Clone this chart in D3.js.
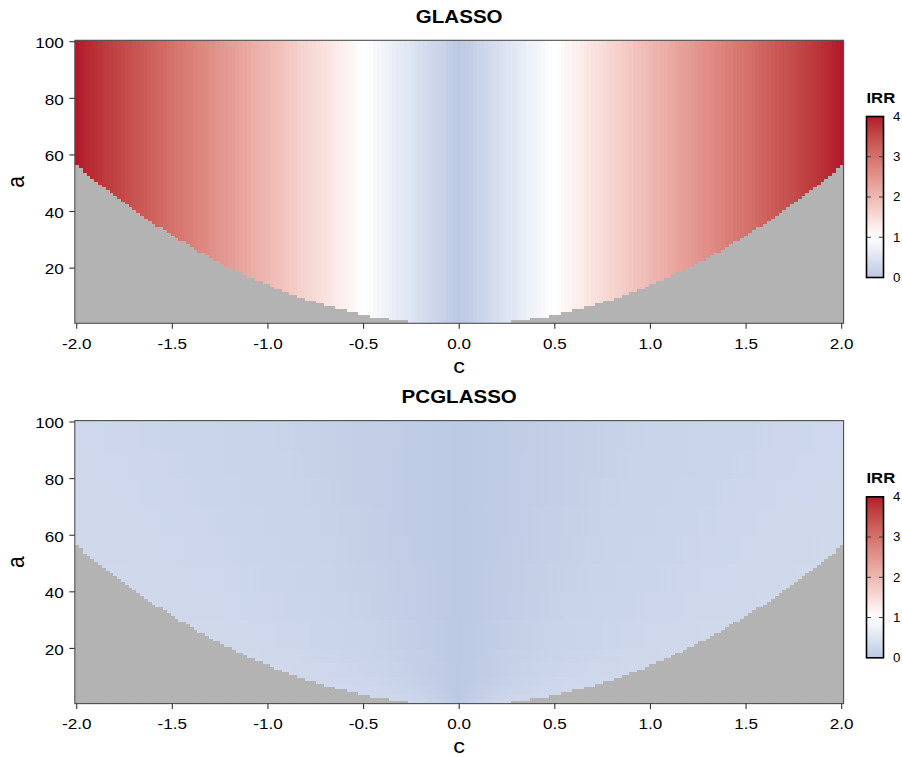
<!DOCTYPE html>
<html><head><meta charset="utf-8">
<script src="https://cdn.jsdelivr.net/npm/d3@7"></script>
<style>html,body{margin:0;padding:0;background:#fff;} svg{display:block;}</style>
</head><body><svg id="chart" width="902" height="757"></svg>
<script>
// ---------------- DATA ----------------
const panelTitles = ["GLASSO", "PCGLASSO"];
// column centres of the (c, a) grid: c from -2 to 2 in steps of 0.02
const cGrid = d3.range(-100, 101).map(k => k / 50);
// GLASSO: IRR per c column (constant over a)
const glassoIRR = [
4,3.96,3.92,3.88,3.84,3.8,3.76,3.72,3.68,3.64,3.6,3.56,3.52,3.48,3.44,3.4,3.36,3.32,3.28,3.24,3.2,3.16,3.12,3.08,3.04,
3,2.96,2.92,2.88,2.84,2.8,2.76,2.72,2.68,2.64,2.6,2.56,2.52,2.48,2.44,2.4,2.36,2.32,2.28,2.24,2.2,2.16,2.12,2.08,2.04,
2,1.96,1.92,1.88,1.84,1.8,1.76,1.72,1.68,1.64,1.6,1.56,1.52,1.48,1.44,1.4,1.36,1.32,1.28,1.24,1.2,1.16,1.12,1.08,1.04,
1,0.96,0.92,0.88,0.84,0.8,0.76,0.72,0.68,0.64,0.6,0.56,0.52,0.48,0.44,0.4,0.36,0.32,0.28,0.24,0.2,0.16,0.12,0.08,0.04,
0,
0.04,0.08,0.12,0.16,0.2,0.24,0.28,0.32,0.36,0.4,0.44,0.48,0.52,0.56,0.6,0.64,0.68,0.72,0.76,0.8,0.84,0.88,0.92,0.96,1,
1.04,1.08,1.12,1.16,1.2,1.24,1.28,1.32,1.36,1.4,1.44,1.48,1.52,1.56,1.6,1.64,1.68,1.72,1.76,1.8,1.84,1.88,1.92,1.96,2,
2.04,2.08,2.12,2.16,2.2,2.24,2.28,2.32,2.36,2.4,2.44,2.48,2.52,2.56,2.6,2.64,2.68,2.72,2.76,2.8,2.84,2.88,2.92,2.96,3,
3.04,3.08,3.12,3.16,3.2,3.24,3.28,3.32,3.36,3.4,3.44,3.48,3.52,3.56,3.6,3.64,3.68,3.72,3.76,3.8,3.84,3.88,3.92,3.96,4
];
// smallest a value that is not missing (NA, grey) in each c column
const minValidA = [
57,56,54,53,52,51,50,49,48,47,46,45,44,43,42,41,40,39,38,37,36,
35,35,34,33,32,31,30,30,29,28,27,26,26,25,24,23,23,22,21,21,20,19,19,18,17,17,16,16,15,15,14,13,13,12,12,11,11,10,10,9,
9,9,8,8,7,7,7,6,6,6,5,5,5,4,4,4,3,3,3,3,3,2,2,2,2,2,
1,1,1,1,1,1,1,1,1,1,1,1,1,
1,
1,1,1,1,1,1,1,1,1,1,1,1,1,
2,2,2,2,2,3,3,3,3,3,4,4,4,5,5,5,6,6,6,7,7,7,8,8,9,9,9,10,10,11,11,12,12,13,13,14,15,15,16,16,17,17,18,19,19,20,21,21,22,23,23,24,25,26,26,27,28,29,30,30,31,32,33,34,35,35,
36,37,38,39,40,41,42,43,44,45,46,47,48,49,50,51,52,53,54,56,57
];
// PCGLASSO: IRR sampled at c every 0.1, in bands of a, rows bottom -> top
const pcCols = d3.range(-20, 21).map(k => k / 10);
const pcBandEdges = [0.5, 2, 4, 7, 10, 15, 20, 30, 40, 50, 60, 70, 80, 90, 100.5];
const pcglassoIRR = [
[.3,.3,.3,.3,.3,.3,.3,.3,.3,.3,.3,.3,.3,.3,.3,.3,.3,.3,.25,.17,0,.17,.25,.3,.3,.3,.3,.3,.3,.3,.3,.3,.3,.3,.3,.3,.3,.3,.3,.3,.3],
[.3,.3,.3,.3,.3,.3,.3,.3,.3,.3,.3,.3,.3,.3,.3,.3,.28,.25,.2,.12,0,.12,.2,.25,.28,.3,.3,.3,.3,.3,.3,.3,.3,.3,.3,.3,.3,.3,.3,.3,.3],
[.3,.3,.3,.3,.3,.3,.3,.3,.3,.3,.3,.3,.3,.3,.3,.28,.25,.21,.17,.1,0,.1,.17,.21,.25,.28,.3,.3,.3,.3,.3,.3,.3,.3,.3,.3,.3,.3,.3,.3,.3],
[.3,.3,.3,.3,.3,.3,.3,.3,.3,.3,.3,.3,.3,.29,.27,.25,.22,.19,.14,.08,0,.08,.14,.19,.22,.25,.27,.29,.3,.3,.3,.3,.3,.3,.3,.3,.3,.3,.3,.3,.3],
[.3,.3,.3,.3,.3,.3,.3,.3,.3,.3,.3,.3,.28,.27,.25,.22,.2,.17,.12,.07,0,.07,.12,.17,.2,.22,.25,.27,.28,.3,.3,.3,.3,.3,.3,.3,.3,.3,.3,.3,.3],
[.3,.3,.3,.3,.3,.3,.3,.3,.3,.3,.29,.28,.26,.24,.23,.21,.18,.15,.11,.06,0,.06,.11,.15,.18,.21,.23,.24,.26,.28,.29,.3,.3,.3,.3,.3,.3,.3,.3,.3,.3],
[.3,.3,.3,.3,.3,.3,.3,.3,.29,.28,.27,.25,.24,.22,.21,.19,.16,.13,.09,.05,0,.05,.09,.13,.16,.19,.21,.22,.24,.25,.27,.28,.29,.3,.3,.3,.3,.3,.3,.3,.3],
[.3,.3,.3,.3,.3,.29,.29,.28,.27,.26,.25,.23,.22,.21,.19,.17,.14,.11,.08,.04,0,.04,.08,.11,.14,.17,.19,.21,.22,.23,.25,.26,.27,.28,.29,.29,.3,.3,.3,.3,.3],
[.3,.3,.3,.29,.29,.28,.27,.27,.25,.24,.23,.22,.21,.19,.17,.15,.13,.1,.07,.04,0,.04,.07,.1,.13,.15,.17,.19,.21,.22,.23,.24,.25,.27,.27,.28,.29,.29,.3,.3,.3],
[.3,.3,.29,.28,.28,.27,.26,.25,.24,.23,.22,.21,.2,.18,.16,.14,.12,.09,.06,.03,0,.03,.06,.09,.12,.14,.16,.18,.2,.21,.22,.23,.24,.25,.26,.27,.28,.28,.29,.3,.3],
[.29,.29,.28,.28,.27,.26,.25,.24,.23,.22,.21,.2,.19,.17,.15,.13,.11,.08,.06,.03,0,.03,.06,.08,.11,.13,.15,.17,.19,.2,.21,.22,.23,.24,.25,.26,.27,.28,.28,.29,.29],
[.28,.28,.27,.27,.26,.25,.24,.23,.22,.21,.2,.19,.18,.16,.14,.12,.1,.08,.06,.03,0,.03,.06,.08,.1,.12,.14,.16,.18,.19,.2,.21,.22,.23,.24,.25,.26,.27,.27,.28,.28],
[.28,.27,.27,.26,.25,.24,.23,.22,.21,.21,.2,.19,.17,.15,.13,.12,.1,.08,.05,.03,0,.03,.05,.08,.1,.12,.13,.15,.17,.19,.2,.21,.21,.22,.23,.24,.25,.26,.27,.27,.28],
[.27,.27,.26,.25,.24,.23,.23,.22,.21,.2,.19,.18,.16,.15,.13,.11,.09,.07,.05,.03,0,.03,.05,.07,.09,.11,.13,.15,.16,.18,.19,.2,.21,.22,.23,.23,.24,.25,.26,.27,.27]
];
const xTicks = [-2, -1.5, -1, -0.5, 0, 0.5, 1, 1.5, 2];
const yTicks = [20, 40, 60, 80, 100];
const legendTicks = [0, 1, 2, 3, 4];
const legendTitle = "IRR";
const xTitle = "c", yTitle = "a";

// sanity checks
if (glassoIRR.length !== cGrid.length) throw new Error("glassoIRR length " + glassoIRR.length);
if (minValidA.length !== cGrid.length) throw new Error("minValidA length " + minValidA.length);
pcglassoIRR.forEach((r, i) => { if (r.length !== pcCols.length) throw new Error("pc row " + i + " length " + r.length); });

// ---------------- DRAWING ----------------
const svg = d3.select("#chart");
const FONT = "'Liberation Sans', Arial, Helvetica, sans-serif";
const SX = 1.11; // horizontal text stretch seen in the reference
const NA = "#b3b3b3";
const color = d3.scaleLinear().domain([-2, 1, 4]).range(["#2166ac", "#ffffff", "#b2182b"]).interpolate(d3.interpolateLab);

const x = d3.scaleLinear().domain([-2.01, 2.01]).range([74.8, 843.6]);
const offsets = [0, 380.3];

function txt(parent, px, py, str, size, anchor, weight) {
  return parent.append("text")
    .attr("transform", `translate(${px},${py}) scale(${SX},1)`)
    .attr("text-anchor", anchor).attr("font-family", FONT)
    .attr("font-size", size).attr("font-weight", weight || "normal")
    .attr("fill", "#000").text(str);
}

// shared colourbar gradient
const defs = svg.append("defs");
const grad = defs.append("linearGradient").attr("id", "irrgrad")
  .attr("x1", 0).attr("y1", 1).attr("x2", 0).attr("y2", 0);
d3.range(0, 4.0001, 0.05).forEach(v => grad.append("stop").attr("offset", v / 4).attr("stop-color", color(v)));

offsets.forEach((off, p) => {
  const y = d3.scaleLinear().domain([0.5, 100.5]).range([323.3 + off, 40.3 + off]);
  const clipId = "clip" + p;
  defs.append("clipPath").attr("id", clipId).append("rect")
    .attr("x", x(-2.01)).attr("y", y(100.5)).attr("width", x(2.01) - x(-2.01)).attr("height", y(0.5) - y(100.5));
  const g = svg.append("g").attr("clip-path", `url(#${clipId})`).attr("shape-rendering", "crispEdges");

  if (p === 0) {
    g.selectAll("rect.col").data(cGrid).join("rect").attr("class", "col")
      .attr("x", c => x(c - 0.01)).attr("width", c => x(c + 0.01) - x(c - 0.01) + 0.3)
      .attr("y", y(100.5)).attr("height", (c, i) => y(minValidA[i] - 0.5) - y(100.5))
      .attr("fill", (c, i) => color(glassoIRR[i]));
  } else {
    pcglassoIRR.forEach((row, r) => {
      const lo = pcBandEdges[r], hi = pcBandEdges[r + 1];
      const gid = `pcrow${r}`;
      const lg = defs.append("linearGradient").attr("id", gid).attr("gradientUnits", "userSpaceOnUse")
        .attr("x1", x(pcCols[0])).attr("x2", x(pcCols[pcCols.length - 1])).attr("y1", 0).attr("y2", 0);
      lg.selectAll("stop").data(pcCols).join("stop")
        .attr("offset", c => (x(c) - x(pcCols[0])) / (x(pcCols[pcCols.length - 1]) - x(pcCols[0])))
        .attr("stop-color", (c, j) => color(row[j]));
      g.append("rect")
        .attr("x", x(-2.01)).attr("width", x(2.01) - x(-2.01))
        .attr("y", y(hi)).attr("height", y(lo) - y(hi) + 0.3)
        .attr("fill", `url(#${gid})`);
    });
  }
  // missing (grey) region
  g.selectAll("rect.na").data(cGrid.filter((c, i) => minValidA[i] > 1)).join("rect").attr("class", "na")
    .attr("x", c => x(c - 0.01)).attr("width", c => x(c + 0.01) - x(c - 0.01) + 0.3)
    .attr("y", c => y(minValidA[cGrid.indexOf(c)] - 0.5))
    .attr("height", c => y(0.5) - y(minValidA[cGrid.indexOf(c)] - 0.5))
    .attr("fill", NA);

  // panel border
  svg.append("rect").attr("x", x(-2.01)).attr("y", y(100.5))
    .attr("width", x(2.01) - x(-2.01)).attr("height", y(0.5) - y(100.5))
    .attr("fill", "none").attr("stroke", "#4d4d4d").attr("stroke-width", 1.1);

  // y axis
  yTicks.forEach(t => {
    svg.append("line").attr("x1", x(-2.01) - 5.5).attr("x2", x(-2.01)).attr("y1", y(t)).attr("y2", y(t))
      .attr("stroke", "#333").attr("stroke-width", 1.1);
    txt(svg, x(-2.01) - 11, y(t) + 6.3, String(t), 15.4, "end");
  });
  // x axis
  xTicks.forEach(t => {
    svg.append("line").attr("x1", x(t)).attr("x2", x(t)).attr("y1", y(0.5)).attr("y2", y(0.5) + 5.5)
      .attr("stroke", "#333").attr("stroke-width", 1.1);
    txt(svg, x(t), 349 + off, t.toFixed(1), 15.4, "middle");
  });
  // axis titles
  txt(svg, (x(-2.01) + x(2.01)) / 2, 373 + off, xTitle, 21, "middle");
  svg.append("text").attr("transform", `translate(24,${(y(0.5) + y(100.5)) / 2}) rotate(-90) scale(1,1.11)`)
    .attr("text-anchor", "middle").attr("font-family", FONT).attr("font-size", 21).text(yTitle);
  // panel title
  txt(svg, (x(-2.01) + x(2.01)) / 2, 23 + off, panelTitles[p], 18.5, "middle", "bold");

  // legend
  const ly = d3.scaleLinear().domain([0, 4]).range([277.5 + off, 116.5 + off]);
  txt(svg, 866.5, 102.7 + off, legendTitle, 15, "start", "bold");
  svg.append("rect").attr("x", 866.5).attr("y", ly(4)).attr("width", 17).attr("height", ly(0) - ly(4))
    .attr("fill", "url(#irrgrad)");
  legendTicks.filter(t => t > 0 && t < 4).forEach(t => {
    svg.append("line").attr("x1", 866.5).attr("x2", 871).attr("y1", ly(t)).attr("y2", ly(t)).attr("stroke", "#3a3a3a").attr("stroke-width", 1);
    svg.append("line").attr("x1", 879).attr("x2", 883.5).attr("y1", ly(t)).attr("y2", ly(t)).attr("stroke", "#3a3a3a").attr("stroke-width", 1);
  });
  svg.append("rect").attr("x", 866.5).attr("y", ly(4)).attr("width", 17).attr("height", ly(0) - ly(4))
    .attr("fill", "none").attr("stroke", "#000").attr("stroke-width", 1.6);
  legendTicks.forEach(t => txt(svg, 893, ly(t) + 4.3, String(t), 12, "start"));
});
</script></body></html>
